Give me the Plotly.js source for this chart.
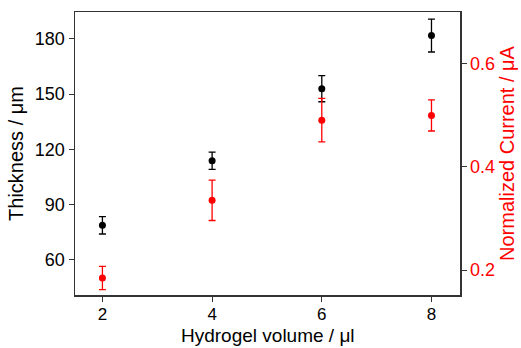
<!DOCTYPE html>
<html><head><meta charset="utf-8">
<script src="https://cdn.plot.ly/plotly-3.0.1.min.js"></script>
<style>html,body{margin:0;padding:0;background:#fff}#chart{width:521px;height:348px}</style>
</head><body><div id="chart"></div>
<script>
const volume = [2, 4, 6, 8];
const thickness = [78.8, 113.9, 153, 181.8];
const thicknessErr = [4.7, 4.7, 7.1, 8.9];
const current = [0.185, 0.335, 0.490, 0.499];
const currentErr = [0.0225, 0.039, 0.042, 0.030];
const xTitle = 'Hydrogel volume / μl';

const traces = [
  {x: volume, y: thickness, type: 'scatter', mode: 'markers',
   marker: {color: '#000', size: 7},
   error_y: {type: 'data', array: thicknessErr, visible: true, color: '#000', thickness: 1.3, width: 3.5},
   yaxis: 'y', showlegend: false},
  {x: volume, y: current, type: 'scatter', mode: 'markers',
   marker: {color: '#ff0000', size: 7},
   error_y: {type: 'data', array: currentErr, visible: true, color: '#ff0000', thickness: 1.3, width: 3.5},
   yaxis: 'y2', showlegend: false}
];
const font = {family: 'Liberation Sans, Arial, sans-serif', size: 18, color: '#000'};
const layout = {
  width: 521, height: 348,
  margin: {l: 75, r: 61, t: 12, b: 53},
  paper_bgcolor: '#fff', plot_bgcolor: '#fff',
  font: font,
  showlegend: false,
  xaxis: {range: [1.5, 8.52], tickvals: [2, 4, 6, 8], ticks: 'outside', ticklen: 5, tickcolor: '#333',
    showline: true, linecolor: '#333', linewidth: 1.5, mirror: true, showgrid: false, zeroline: false,
    ticklabelstandoff: -2, tickfont: {size: 17}},
  yaxis: {range: [41, 194.6], tickvals: [60, 90, 120, 150, 180], ticks: 'outside', ticklen: 5, tickcolor: '#333',
    showline: true, linecolor: '#333', linewidth: 1.5, mirror: true, showgrid: false, zeroline: false,
    tickfont: {size: 18}, title: {text: 'Thickness / μm', font: {size: 20}, standoff: 6}},
  yaxis2: {overlaying: 'y', side: 'right', range: [0.152, 0.699], tickvals: [0.2, 0.4, 0.6], ticktext: ['0.2','0.4','0.6'],
    ticks: 'outside', ticklen: 5, tickcolor: '#333', showline: true, linecolor: '#333', linewidth: 1.5,
    showgrid: false, zeroline: false,
    tickfont: {size: 18, color: '#ff0000'}, title: {text: 'Normalized Current / μA', font: {size: 20, color: '#ff0000'}, standoff: 6}},
  annotations: [{text: xTitle, xref: 'paper', yref: 'paper', x: 0.5, y: 0, xanchor: 'center', yanchor: 'bottom',
    yshift: -53, showarrow: false, font: {size: 19, color: '#000'}}]
};
Plotly.newPlot('chart', traces, layout, {staticPlot: true, displayModeBar: false});
</script></body></html>
